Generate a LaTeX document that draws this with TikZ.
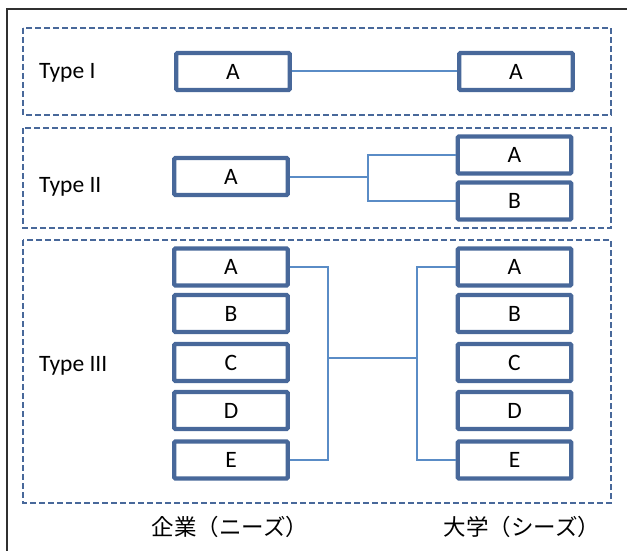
\documentclass[tikz,border=0pt]{standalone}
\usepackage{fontspec}
\setmainfont{Carlito}
\newfontfamily\cjk{Noto Sans CJK JP}
\definecolor{boxblue}{HTML}{48689A}
\definecolor{linkblue}{HTML}{5A8CC6}
\definecolor{framegray}{HTML}{303030}
\begin{document}
\begin{tikzpicture}[x=1pt,y=-1pt,
  item/.style={draw=boxblue,line width=4.2pt,rounded corners=1pt,minimum width=113.5pt,minimum height=37pt,inner sep=0pt,font=\fontsize{23.5}{26}\selectfont},
  group/.style={draw=boxblue,line width=2.2pt,dash pattern=on 6pt off 3pt},
  link/.style={draw=linkblue,line width=2pt},
  lab/.style={anchor=west,font=\fontsize{23.5}{26}\selectfont,inner sep=0pt},
  jlab/.style={font=\cjk\fontsize{22.5}{26}\selectfont,inner sep=0pt}]
\useasboundingbox (0,0) rectangle (627,551);
\draw[framegray,line width=1.5pt] (7,551) -- (7,9) -- (627,9);
% groups
\draw[group] (23,28) rectangle (611,115);
\draw[group] (23,128) rectangle (611,228);
\draw[group] (23,240) rectangle (611,503);
\node[lab] (t1) at (39,73) {Type I};
\node[lab] (t2) at (39,187) {Type II};
\node[lab] (t3) at (39,366) {Type III};
% Type I
\node[item] (p1) at (233,71.5) {A};
\node[item] (q1) at (516,71.5) {A};
\draw[link] (p1.east) -- (q1.west);
% Type II
\node[item] (p2) at (231,176.5) {A};
\node[item] (q2a) at (514.5,155) {A};
\node[item] (q2b) at (514.5,201) {B};
\coordinate (j2) at (368,176.5);
\draw[link] (p2.east) -- (j2);
\draw[link] (q2a.west) -| (j2 |- q2b.west) -- (q2b.west);
% Type III
\foreach \n/\y in {A/267,B/313.5,C/362.5,D/410.5,E/460}{
  \node[item] (p\n) at (231,\y) {\n};
  \node[item] (q\n) at (514.5,\y) {\n};
}
\coordinate (jl) at (328,358);
\coordinate (jr) at (417,358);
\draw[link] (pA.east) -| (jl |- pE.east) -- (pE.east);
\draw[link] (qA.west) -| (jr |- qE.west) -- (qE.west);
\draw[link] (jl) -- (jr);
% bottom labels
\node[jlab] (c) at (230,527) {企業（ニーズ）};
\node[jlab] (u) at (522,527) {大学（シーズ）};
\end{tikzpicture}
\end{document}
